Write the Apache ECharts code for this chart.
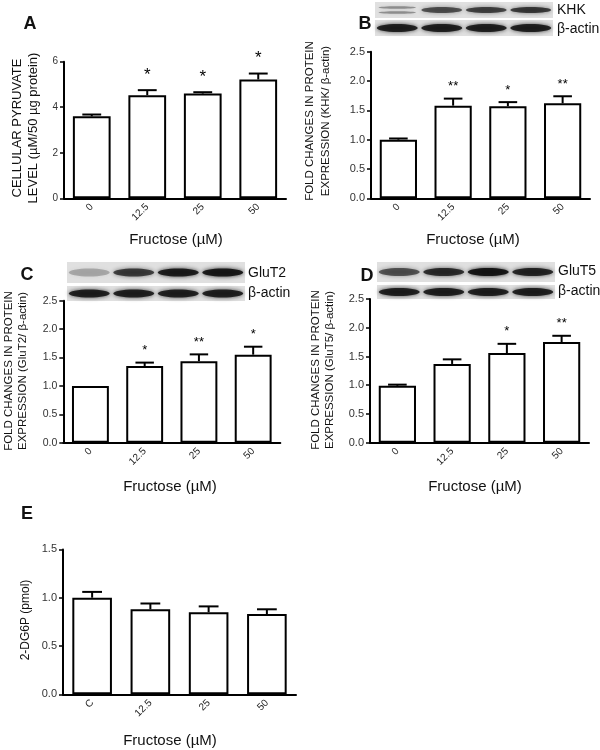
<!DOCTYPE html>
<html>
<head>
<meta charset="utf-8">
<script src="https://cdn.jsdelivr.net/npm/echarts@6/dist/echarts.min.js"></script>
<style>
html,body{margin:0;padding:0;background:#fff;}
#chart{width:600px;height:750px;}
</style>
</head>
<body>
<div id="chart"></div>
<script>
// ---------- data ----------
const fructose = ['0', '12.5', '25', '50'];
const fructoseE = ['C', '12.5', '25', '50'];

const pyruvate = [3.6, 4.53, 4.6, 5.22];
const pyruvateErr = [0.08, 0.22, 0.06, 0.26];
const pyruvateSig = ['', '*', '*', '*'];

const khk = [1.0, 1.58, 1.57, 1.62];
const khkErr = [0.02, 0.12, 0.07, 0.12];
const khkSig = ['', '**', '*', '**'];

const glut2 = [1.0, 1.35, 1.435, 1.55];
const glut2Err = [0, 0.06, 0.12, 0.14];
const glut2Sig = ['', '*', '**', '*'];

const glut5 = [0.99, 1.37, 1.56, 1.75];
const glut5Err = [0.02, 0.08, 0.16, 0.11];
const glut5Sig = ['', '', '*', '**'];

const dg6p = [1.0, 0.88, 0.85, 0.83];
const dg6pErr = [0.06, 0.06, 0.06, 0.05];
const dg6pSig = ['', '', '', ''];

// western blot band darkness (0..1), per lane
const khkBand = [0.35, 0.62, 0.68, 0.72];
const glut2Band = [0.25, 0.7, 0.88, 0.9];
const glut5Band = [0.6, 0.78, 0.92, 0.82];
const actinBand = [0.85, 0.85, 0.85, 0.85];

// ---------- helpers ----------
const FONT = '"Liberation Sans", Arial, Helvetica, sans-serif';
const BAR_RATIO = 0.68;

function errRender(sig, starSize, starOff) {
  return function (params, api) {
    const i = api.value(0), v = api.value(1), e = api.value(2);
    const base = api.coord([i, v]);
    const top = api.coord([i, v + e]);
    const bw = api.size([1, 0])[0];
    const half = bw * BAR_RATIO / 4;
    const children = [];
    if (e > 0) {
      children.push({type: 'line', shape: {x1: base[0], y1: base[1], x2: top[0], y2: top[1]},
        style: {stroke: '#000', lineWidth: 2}});
      children.push({type: 'line', shape: {x1: top[0] - half, y1: top[1], x2: top[0] + half, y2: top[1]},
        style: {stroke: '#000', lineWidth: 2}});
    }
    const s = sig[params.dataIndex];
    if (s) {
      children.push({type: 'text', style: {x: top[0], y: top[1] - starOff, text: s,
        font: starSize + 'px ' + FONT, fill: '#000', align: 'center', verticalAlign: 'middle',
        textAlign: 'center', textVerticalAlign: 'middle'}});
    }
    return {type: 'group', children: children};
  };
}

function xAx(gi, cats) {
  return {
    type: 'category', gridIndex: gi, data: cats,
    axisLine: {lineStyle: {color: '#000', width: 2}},
    axisTick: {alignWithLabel: true, length: 4, lineStyle: {color: '#000', width: 1.5}},
    axisLabel: {rotate: 45, fontSize: 10, color: '#222', margin: 7, fontFamily: FONT},
    splitLine: {show: false}
  };
}
function yAx(gi, max, interval, dec, fs) {
  return {
    type: 'value', gridIndex: gi, min: 0, max: max, interval: interval,
    axisLine: {show: true, lineStyle: {color: '#000', width: 2}},
    axisTick: {show: true, length: 4, lineStyle: {color: '#000', width: 1.5}},
    axisLabel: {fontSize: fs, color: '#333', margin: 6, fontFamily: FONT,
      formatter: v => v.toFixed(dec)},
    splitLine: {show: false}
  };
}
function barSeries(gi, vals) {
  return {
    type: 'bar', xAxisIndex: gi, yAxisIndex: gi, data: vals,
    barWidth: (BAR_RATIO * 100) + '%',
    itemStyle: {color: '#fff', borderColor: '#000', borderWidth: 2},
    silent: true, z: 2
  };
}
function errSeries(gi, vals, errs, sig, starSize, starOff) {
  return {
    type: 'custom', xAxisIndex: gi, yAxisIndex: gi,
    data: vals.map((v, i) => [i, v, errs[i]]),
    encode: {x: 0, y: 1},
    renderItem: errRender(sig, starSize, starOff),
    silent: true, z: 5
  };
}
function txt(x, y, text, size, opts) {
  opts = opts || {};
  return {
    type: 'text', x: x, y: y, rotation: opts.rot || 0, z: 10,
    style: {
      text: text, font: (opts.bold ? 'bold ' : '') + size + 'px ' + FONT,
      fill: '#111', align: opts.align || 'center', verticalAlign: 'middle',
      textAlign: opts.align || 'center', textVerticalAlign: 'middle',
      lineHeight: opts.lh || size + 2
    }
  };
}
function blot(x0, y0, w, h, bands, ry, dbl) {
  const els = [{type: 'rect', shape: {x: x0, y: y0, width: w, height: h},
    style: {fill: '#e0e0e0'}, z: 1}];
  const lw = w / bands.length;
  bands.forEach((d, i) => {
    const cx = x0 + lw * (i + 0.5), cy = y0 + h / 2;
    const col = 'rgba(15,15,15,' + d + ')';
    if (dbl && i === 0) {
      [-2.5, 2.5].forEach(off => {
        els.push({type: 'ellipse', shape: {cx: cx, cy: cy + off, rx: lw * 0.42, ry: ry * 0.45},
          style: {fill: col, shadowBlur: 3, shadowColor: col}, z: 2});
      });
    } else {
      els.push({type: 'ellipse', shape: {cx: cx, cy: cy, rx: lw * 0.46, ry: ry},
        style: {fill: col, shadowBlur: 4, shadowColor: col}, z: 2});
    }
  });
  return els;
}

// ---------- chart ----------
const chart = echarts.init(document.getElementById('chart'), null, {renderer: 'canvas'});

const graphics = [].concat(
  // panel letters
  [txt(30, 24, 'A', 18, {bold: true}), txt(365, 24, 'B', 18, {bold: true}),
   txt(27, 275, 'C', 18, {bold: true}), txt(367, 276, 'D', 18, {bold: true}),
   txt(27, 514, 'E', 18, {bold: true})],
  // blots
  blot(375, 2, 178, 16, khkBand, 3, true),
  blot(375, 20, 178, 16, actinBand, 4),
  blot(67, 262, 178, 21, glut2Band, 4),
  blot(67, 286, 178, 15, actinBand, 4),
  blot(377, 262, 178, 20, glut5Band, 4),
  blot(377, 285, 178, 14, actinBand, 4),
  [txt(557, 10, 'KHK', 14, {align: 'left'}), txt(557, 29, 'β-actin', 14, {align: 'left'}),
   txt(248, 273, 'GluT2', 14, {align: 'left'}), txt(248, 293, 'β-actin', 14, {align: 'left'}),
   txt(558, 271, 'GluT5', 14, {align: 'left'}), txt(558, 291, 'β-actin', 14, {align: 'left'})],
  // y titles
  [txt(25, 128, 'CELLULAR PYRUVATE\nLEVEL (µM/50 µg protein)', 13, {rot: Math.PI / 2, lh: 16}),
   txt(318, 121, 'FOLD CHANGES IN PROTEIN\nEXPRESSION (KHK/ β-actin)', 11.5, {rot: Math.PI / 2, lh: 16}),
   txt(16, 371, 'FOLD CHANGES IN PROTEIN\nEXPRESSION (GluT2/ β-actin)', 11.5, {rot: Math.PI / 2, lh: 13.5}),
   txt(323, 370, 'FOLD CHANGES IN PROTEIN\nEXPRESSION (GluT5/ β-actin)', 11.5, {rot: Math.PI / 2, lh: 13.5}),
   txt(26, 620, '2-DG6P (pmol)', 12, {rot: Math.PI / 2})],
  // x titles
  [txt(176, 240, 'Fructose (µM)', 15), txt(473, 240, 'Fructose (µM)', 15),
   txt(170, 487, 'Fructose (µM)', 15), txt(475, 487, 'Fructose (µM)', 15),
   txt(170, 741, 'Fructose (µM)', 15)]
);

chart.setOption({
  animation: false,
  backgroundColor: '#fff',
  textStyle: {fontFamily: FONT},
  grid: [
    {left: 64, top: 61.7, width: 222, height: 136.6},
    {left: 371, top: 51.7, width: 219, height: 146.6},
    {left: 63.3, top: 300.7, width: 217, height: 142},
    {left: 370, top: 299, width: 219, height: 143.7},
    {left: 63, top: 549.4, width: 233, height: 144.9}
  ],
  xAxis: [xAx(0, fructose), xAx(1, fructose), xAx(2, fructose), xAx(3, fructose), xAx(4, fructoseE)],
  yAxis: [yAx(0, 6, 2, 0, 10), yAx(1, 2.5, 0.5, 1, 11), yAx(2, 2.5, 0.5, 1, 10.5),
          yAx(3, 2.5, 0.5, 1, 11), yAx(4, 1.5, 0.5, 1, 11)],
  series: [
    barSeries(0, pyruvate), errSeries(0, pyruvate, pyruvateErr, pyruvateSig, 17, 15),
    barSeries(1, khk), errSeries(1, khk, khkErr, khkSig, 13, 12),
    barSeries(2, glut2), errSeries(2, glut2, glut2Err, glut2Sig, 13, 12),
    barSeries(3, glut5), errSeries(3, glut5, glut5Err, glut5Sig, 13, 12),
    barSeries(4, dg6p), errSeries(4, dg6p, dg6pErr, dg6pSig, 13, 12)
  ],
  graphic: graphics
});
</script>
</body>
</html>
